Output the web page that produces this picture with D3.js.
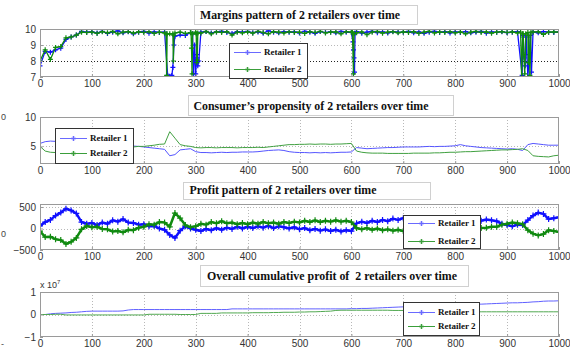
<!DOCTYPE html>
<html><head><meta charset="utf-8">
<script src="https://cdn.jsdelivr.net/npm/d3@7"></script>
<style>body{margin:0;background:#fff;}svg{display:block;}</style>
</head><body>
<svg id="c" width="570" height="349"></svg>
<script>
// ---------- DATA ----------
const time = d3.range(0, 1001, 10);
const xTickValues = [0,100,200,300,400,500,600,700,800,900,1000];
const seriesNames = ["Retailer 1", "Retailer 2"];
const titles = ["Margins pattern of 2 retailers over time",
  "Consumer\u2019s propensity of 2 retailers over time",
  "Profit pattern of 2 retailers over time",
  "Overall cumulative profit of  2 retailers over time"];

const margin1 = [7.7,8.6,8.55,8.7,8.8,9.35,9.5,9.62,9.85,9.8,
 9.82,9.75,9.86,9.72,9.8,9.88,9.76,9.83,9.7,9.8,
 9.85,9.74,9.82,9.78,9.8,7.05,9.55,9.62,9.6,9.78,
 7.2,9.8,9.84,9.75,9.82,9.86,9.78,9.72,9.83,9.8,
 9.85,9.77,9.82,9.74,9.88,9.8,9.76,9.84,9.79,9.82,
 9.75,9.86,9.8,9.73,9.84,9.78,9.82,9.76,9.85,9.8,
 9.78,9.83,9.74,9.8,9.86,9.77,9.82,9.75,9.84,9.8,
 9.79,9.85,9.76,9.82,9.73,9.8,9.86,9.78,9.83,9.75,
 9.82,9.78,9.84,9.76,9.8,9.85,9.74,9.82,9.79,9.83,
 9.77,9.8,9.84,9.5,7.0,9.82,9.76,9.84,9.8,9.78,
 9.82];
const margin1SpikeT = [246,248,252,254,256,258,294,296,298,302,303,304,306,603,604,605,606,607,929,931,933,935,937,943,945,947];
const margin1SpikeV = [7.1,7.0,7.0,7.1,7.6,9.0,9.7,7.2,9.0,8.4,8.2,7.7,8.0,9.2,8.7,8.2,7.3,9.75,7.1,9.6,8.2,7.7,9.5,8.4,9.6,7.3];
const margin2 = [8.0,8.7,8.1,8.85,8.9,9.45,9.5,9.62,9.8,9.78,
 9.8,9.72,9.83,9.76,9.85,9.7,9.8,9.84,9.74,9.82,
 9.78,9.84,9.72,9.8,9.75,9.7,9.75,9.8,9.72,9.78,
 9.8,9.74,9.85,9.7,9.82,9.78,9.84,9.62,9.8,9.76,
 9.82,9.74,9.86,9.78,9.7,9.84,9.8,9.75,9.83,9.78,
 9.8,9.72,9.84,9.78,9.86,9.75,9.8,9.82,9.7,9.84,
 9.8,9.76,9.82,9.64,9.8,9.85,9.74,9.8,9.83,9.76,
 9.82,9.78,9.84,9.72,9.8,9.86,9.75,9.82,9.78,9.84,
 9.76,9.82,9.7,9.8,9.85,9.78,9.82,9.74,9.8,9.84,
 9.78,9.82,9.75,9.7,9.78,9.8,9.84,9.66,9.8,9.82,
 9.8];
const margin2SpikeT = [243,244,245,256,257,258,291,292,293,294,301,302,303,304,602,604,605,926,928,931,932,934,936,941,942,944,946];
const margin2SpikeV = [9.7,7.1,9.7,9.7,8.0,9.6,9.75,8.8,7.2,9.7,9.7,7.9,8.05,9.75,9.8,7.2,9.7,9.8,7.0,9.7,8.4,7.2,9.7,7.9,9.6,7.1,9.8];

const prop1 = [5.5,5.8,5.9,5.85,5.9,5.7,5.6,5.5,5.45,5.4,
 5.35,5.3,5.3,5.25,5.2,5.2,5.15,5.1,5.05,5.0,
 4.9,4.8,4.7,4.6,4.5,3.4,3.6,4.4,4.5,4.6,
 4.1,3.95,3.95,3.9,3.95,4.0,3.95,4.0,4.0,4.05,
 4.05,4.05,4.1,4.2,4.3,4.35,4.4,4.3,4.1,4.0,
 3.95,3.95,3.9,3.95,3.9,3.95,3.9,3.95,4.0,4.0,
 4.05,4.8,4.7,4.6,4.65,4.7,4.75,4.8,4.8,4.85,
 4.9,4.9,4.9,4.9,4.95,5.0,4.95,5.0,5.0,5.05,
 5.1,5.3,5.1,5.0,4.9,4.8,4.75,4.7,4.65,4.6,
 4.55,4.6,4.5,4.3,5.3,5.5,5.4,5.3,5.2,5.2,
 5.2];
const prop2 = [5.0,4.2,4.0,3.95,3.95,4.0,4.1,4.2,4.3,4.4,
 4.5,4.6,4.7,4.75,4.8,4.85,4.9,4.9,4.9,5.0,
 5.0,5.1,5.2,5.35,5.4,7.5,6.4,5.3,5.1,5.0,
 4.8,4.75,4.8,4.8,4.75,4.8,4.8,4.8,4.75,4.8,
 4.8,4.8,4.85,4.8,4.9,5.0,5.1,5.2,5.3,5.3,
 5.35,5.35,5.4,5.35,5.4,5.4,5.35,5.4,5.4,5.45,
 5.5,4.2,4.0,3.9,3.85,3.85,3.85,3.8,3.8,3.8,
 3.8,3.8,3.85,3.85,3.85,3.85,3.9,3.9,3.95,4.0,
 4.0,4.05,4.1,4.1,4.15,4.2,4.25,4.3,4.35,4.4,
 4.4,4.45,4.5,4.6,4.3,3.4,3.3,3.25,3.2,3.4,
 3.5];

const profit1 = [60,150,200,300,370,460,420,350,150,110,
 130,80,140,110,190,160,220,140,130,90,
 100,50,60,0,-30,-150,-220,-50,50,0,
 -30,-60,-10,-40,10,-30,20,-10,40,0,
 40,10,50,20,60,10,50,30,0,30,
 -20,10,-40,-10,-50,-20,-60,-30,-70,-40,
 -60,120,160,130,180,150,200,170,230,200,
 240,200,230,190,240,210,230,190,240,200,
 220,180,230,190,220,180,210,190,170,110,
 80,50,90,80,195,300,370,340,220,240,
 260];
const profit2 = [-60,-200,-190,-250,-270,-360,-310,-220,-20,60,
 30,40,-10,-20,-70,-60,-90,-30,-40,20,
 40,100,90,150,140,40,360,240,80,30,
 50,110,90,150,120,170,120,140,100,130,
 100,140,110,150,120,140,110,150,130,160,
 140,180,150,190,150,180,160,190,160,180,
 150,10,-20,10,-30,0,-40,-20,-50,-30,
 -60,-30,-60,-40,-70,-40,-60,-30,-60,-40,
 -60,-30,-40,0,-20,10,20,40,40,90,
 110,140,120,100,-40,-120,-160,-130,-40,-60,
 -80];

// cumulative profit, in units of 10^7
const cum1 = [0,0,0.03,0.05,0.06,0.07,0.09,0.1,0.12,0.14,
 0.15,0.15,0.15,0.15,0.15,0.15,0.16,0.2,0.22,0.22,
 0.22,0.22,0.22,0.22,0.22,0.22,0.22,0.22,0.22,0.22,
 0.22,0.22,0.22,0.22,0.22,0.22,0.22,0.25,0.25,0.25,
 0.25,0.25,0.25,0.25,0.25,0.25,0.25,0.25,0.25,0.25,
 0.25,0.25,0.25,0.25,0.25,0.25,0.25,0.25,0.25,0.25,
 0.26,0.26,0.27,0.27,0.28,0.29,0.3,0.31,0.32,0.33,
 0.34,0.35,0.36,0.37,0.38,0.39,0.4,0.41,0.42,0.43,
 0.44,0.44,0.45,0.45,0.46,0.46,0.47,0.48,0.49,0.5,
 0.51,0.52,0.52,0.53,0.54,0.56,0.57,0.59,0.6,0.6,
 0.61];
const cum2 = [0,0,0,0.01,0.01,-0.02,-0.02,-0.02,-0.02,-0.02,
 -0.02,-0.02,-0.02,-0.02,-0.02,-0.02,-0.02,-0.02,-0.02,-0.02,
 -0.02,0.01,0.01,0.01,0.01,0.01,0.01,0,0,0,
 0,0.05,0.05,0.05,0.05,0.07,0.07,0.07,0.07,0.07,
 0.07,0.08,0.08,0.08,0.08,0.09,0.09,0.1,0.1,0.1,
 0.11,0.11,0.12,0.12,0.13,0.14,0.15,0.18,0.19,0.19,
 0.19,0.19,0.19,0.19,0.19,0.19,0.19,0.19,0.18,0.18,
 0.18,0.17,0.17,0.16,0.16,0.15,0.15,0.14,0.14,0.13,
 0.13,0.13,0.12,0.12,0.12,0.12,0.12,0.12,0.12,0.12,
 0.12,0.12,0.12,0.12,0.12,0.12,0.12,0.12,0.12,0.12,
 0.12];

// ---------- DRAWING ----------
const svg = d3.select("#c");
const BLUE = "#1010ff", GREEN = "#108a10";
const LEG_BLUE = "#6a6aff", LEG_GREEN = "#3a9e3a";
const X0 = 40, X1 = 559;
const x = d3.scaleLinear().domain([0, 1000]).range([X0, X1]);
const plusPath = s => `M${-s},0H${s}M0,${-s}V${s}`;

function merge(base, st, sv) {
  const pts = time.map((t, i) => [t, base[i]]);
  if (st) st.forEach((t, i) => pts.push([t, sv[i]]));
  return pts.sort((a, b) => a[0] - b[0]);
}

let clipId = 0;
function panel(cfg) {
  const y = d3.scaleLinear().domain(cfg.domain).range([cfg.bottom, cfg.top]);
  const g = svg.append("g");
  const h = cfg.bottom - cfg.top;
  g.append("rect").attr("x", X0).attr("y", cfg.top).attr("width", X1 - X0).attr("height", h).attr("fill", "#fff");
  // grid
  xTickValues.slice(1, -1).forEach(t => {
    g.append("line").attr("x1", Math.round(x(t)) + 0.5).attr("x2", Math.round(x(t)) + 0.5).attr("y1", cfg.top).attr("y2", cfg.bottom)
      .attr("stroke", "#b8b8b8").attr("stroke-width", 1).attr("stroke-dasharray", "1,2");
  });
  cfg.yGrid.forEach(([v, col]) => {
    g.append("line").attr("x1", X0).attr("x2", X1).attr("y1", Math.round(y(v)) + 0.5).attr("y2", Math.round(y(v)) + 0.5)
      .attr("stroke", col).attr("stroke-width", 1).attr("stroke-dasharray", "1,2");
  });
  // clip
  const id = "clip" + (clipId++);
  svg.append("clipPath").attr("id", id).append("rect").attr("x", X0).attr("y", cfg.top).attr("width", X1 - X0).attr("height", h);
  const dg = g.append("g").attr("clip-path", `url(#${id})`);
  const line = d3.line().x(d => x(d[0])).y(d => y(d[1]));
  cfg.series.forEach(s => {
    dg.append("path").attr("d", line(s.pts)).attr("fill", "none").attr("stroke", s.color)
      .attr("stroke-width", s.width).attr("stroke-linejoin", "round").attr("stroke-opacity", s.opacity || 1);
    if (s.marker) {
      dg.append("g").selectAll("path").data(s.pts).join("path")
        .attr("transform", d => `translate(${x(d[0])},${y(d[1])})`)
        .attr("d", plusPath(s.marker)).attr("stroke", s.color).attr("stroke-width", 1.2).attr("fill", "none");
    }
  });
  // box
  g.append("rect").attr("x", X0 + 0.5).attr("y", cfg.top + 0.5).attr("width", X1 - X0 - 1).attr("height", h - 1)
    .attr("fill", "none").attr("stroke", "#9a9a9a").attr("stroke-width", 1);
  // axes
  const ax = g.append("g").attr("transform", `translate(0,${cfg.bottom})`)
    .call(d3.axisBottom(x).tickValues(xTickValues).tickSizeInner(-3).tickSizeOuter(0).tickPadding(3).tickFormat(d3.format("d")));
  const ay = g.append("g").attr("transform", `translate(${X0},0)`)
    .call(d3.axisLeft(y).tickValues(cfg.yTicks).tickSizeInner(-3).tickSizeOuter(0).tickPadding(4).tickFormat(d3.format("d")));
  [ax, ay].forEach(a => {
    a.select(".domain").remove();
    a.selectAll("line").attr("stroke", "#9a9a9a");
    a.selectAll("text").attr("font-family", "Liberation Sans, Arial, sans-serif").attr("font-size", 10).attr("fill", "#333");
  });
  // title
  const tb = cfg.titleBox;
  svg.append("rect").attr("x", tb[0] + 0.5).attr("y", tb[1] + 0.5).attr("width", tb[2] - tb[0]).attr("height", tb[3] - tb[1])
    .attr("fill", "#fff").attr("stroke", "#d0d0d0");
  svg.append("text").attr("x", cfg.titleX).attr("y", cfg.titleY).attr("text-anchor", "middle")
    .attr("font-family", "Liberation Serif, Times New Roman, serif").attr("font-weight", "bold").attr("font-size", 12)
    .attr("fill", "#111").style("white-space", "pre")
    .attr("textLength", cfg.titleW).attr("lengthAdjust", "spacingAndGlyphs").text(cfg.title);
  // legend
  const L = cfg.legend;
  svg.append("rect").attr("x", L.x + 0.5).attr("y", L.y + 0.5).attr("width", L.w).attr("height", L.h)
    .attr("fill", "#fff").attr("stroke", "#333").attr("stroke-width", 1);
  const legCols = [LEG_BLUE, LEG_GREEN];
  cfg.series.forEach((s, i) => {
    const ly = L.rows[i];
    svg.append("line").attr("x1", L.x + 5).attr("x2", L.x + 32).attr("y1", ly + 0.5).attr("y2", ly + 0.5)
      .attr("stroke", legCols[i]).attr("stroke-width", 1);
    svg.append("path").attr("transform", `translate(${L.x + 18.5},${ly + 0.5})`).attr("d", plusPath(2.5))
      .attr("stroke", legCols[i]).attr("stroke-width", 1.5).attr("fill", "none");
    svg.append("text").attr("x", L.x + 35).attr("y", ly + 3).attr("font-family", "Liberation Serif, Times New Roman, serif")
      .attr("font-weight", "bold").attr("font-size", 9).attr("fill", "#111").text(seriesNames[i]);
  });
  return y;
}

// Panel 1: margins
panel({
  top: 29, bottom: 77, domain: [7, 10], yTicks: [7, 8, 9, 10],
  yGrid: [[9, "#b8b8b8"], [8, "#222"]],
  series: [
    {pts: merge(margin1, margin1SpikeT, margin1SpikeV), color: BLUE, width: 1.3, marker: 2.5},
    {pts: merge(margin2, margin2SpikeT, margin2SpikeV), color: GREEN, width: 1.3, marker: 2.5}
  ],
  titleBox: [194, 5, 417, 24], title: titles[0], titleX: 300, titleY: 19, titleW: 200,
  legend: {x: 229, y: 43, w: 78, h: 35, rows: [52, 69]}
});
// Panel 2: propensity
panel({
  top: 117, bottom: 164, domain: [2, 10], yTicks: [5, 10],
  yGrid: [[5, "#b8b8b8"]],
  series: [
    {pts: merge(prop1), color: "#5555ff", width: 1},
    {pts: merge(prop2), color: "#40a040", width: 1}
  ],
  titleBox: [188, 95, 453, 115], title: titles[1], titleX: 311, titleY: 110, titleW: 235,
  legend: {x: 55, y: 128, w: 78, h: 35, rows: [138, 153]}
});
// Panel 3: profit
panel({
  top: 204, bottom: 250, domain: [-500, 570], yTicks: [-500, 0, 500],
  yGrid: [[0, "#b8b8b8"], [500, "#b8b8b8"]],
  series: [
    {pts: merge(profit1), color: BLUE, width: 2.5, marker: 3},
    {pts: merge(profit2), color: GREEN, width: 2.5, marker: 3}
  ],
  titleBox: [183, 182, 430, 199], title: titles[2], titleX: 283, titleY: 194, titleW: 187,
  legend: {x: 403, y: 215, w: 77, h: 33, rows: [223, 241]}
});
// Panel 4: cumulative
panel({
  top: 292, bottom: 337, domain: [-1, 1], yTicks: [-1, 0, 1],
  yGrid: [[0, "#b8b8b8"]],
  series: [
    {pts: merge(cum1), color: "#6060ff", width: 1},
    {pts: merge(cum2), color: "#50a850", width: 1}
  ],
  titleBox: [200, 265, 468, 286], title: titles[3], titleX: 332, titleY: 280, titleW: 250,
  legend: {x: 403, y: 302, w: 76, h: 33, rows: [312, 326]}
});

// exponent label
const ex = svg.append("text").attr("x", 40).attr("y", 288).attr("font-family", "Liberation Sans, Arial, sans-serif")
  .attr("font-size", 9).attr("fill", "#333");
ex.append("tspan").text("x 10");
ex.append("tspan").attr("dy", -4).attr("font-size", 6).text("7");

// stray labels at the left edge
const stray = [["0", 1, 120], ["0", 1, 237], ["-", 1, 347]];
stray.forEach(([t, sx, sy]) => svg.append("text").attr("x", sx).attr("y", sy)
  .attr("font-family", "Liberation Sans, Arial, sans-serif").attr("font-size", 9).attr("fill", "#444").text(t));
</script>
</body></html>
